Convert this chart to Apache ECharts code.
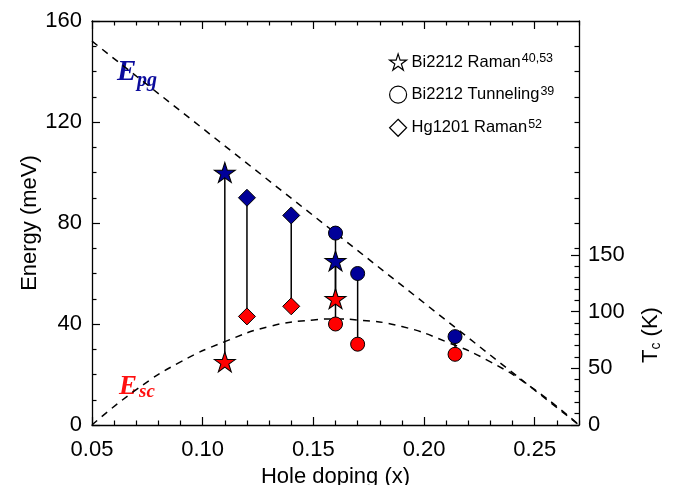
<!DOCTYPE html>
<html>
<head>
<meta charset="utf-8">
<script src="https://cdn.jsdelivr.net/npm/echarts@6/dist/echarts.min.js"></script>
<style>
html,body{margin:0;padding:0;background:#fff;}
#chart{width:677px;height:485px;}
</style>
</head>
<body>
<div id="chart"></div>
<script>
// Bi2212 Raman (stars)
const biRamanX = [0.11, 0.16];
const biRamanPg = [100, 65];
const biRamanSc = [25, 50];
// Bi2212 Tunneling (circles)
const tunnelX = [0.16, 0.17, 0.214];
const tunnelPg = [76, 60, 35];
const tunnelSc = [40, 32, 28];
// Hg1201 Raman (diamonds)
const hgX = [0.12, 0.14];
const hgPg = [90, 83];
const hgSc = [43, 47];

// dashed guide lines
const epgX = [0.05, 0.27];
const epgY = [152, 0];
const escX = [0.05, 0.07, 0.09, 0.11, 0.13, 0.15, 0.16, 0.17, 0.19, 0.21, 0.23, 0.25, 0.27];
const escY = [0, 14, 25, 33, 39, 41.6, 42, 41.6, 39, 33, 25, 14, 0];

const seriesNames = ['Bi2212 Raman', 'Bi2212 Tunneling', 'Hg1201 Raman'];
const seriesRefs = ['40,53', '39', '52'];

// tick labels
const xMajor = [0.05, 0.10, 0.15, 0.20, 0.25];
const xMinor = [0.06, 0.07, 0.08, 0.09, 0.11, 0.12, 0.13, 0.14, 0.16, 0.17, 0.18, 0.19, 0.21, 0.22, 0.23, 0.24, 0.26, 0.27];
const rightMirror = [70, 80, 90, 100, 110, 120, 130, 140, 150];
const tcMajor = [0, 50, 100, 150];
const tcMinor = [10, 20, 30, 40, 60, 70, 80, 90, 110, 120, 130, 140];

const BLUE = '#000099';
const RED = '#ff0000';
const STAR = 'path://M50 0 L61.23 34.55 L97.55 34.55 L68.16 55.9 L79.39 90.45 L50 69.1 L20.61 90.45 L31.84 55.9 L2.45 34.55 L38.77 34.55 Z';
const FONT = '"Liberation Sans", Arial, sans-serif';
const SERIF = '"Liberation Serif", "Times New Roman", serif';
const FS = 22;

function pts(xs, pg, sc) {
    let out = [];
    xs.forEach((x, i) => {
        out.push({value: [x, pg[i]], itemStyle: {color: BLUE}});
        out.push({value: [x, sc[i]], itemStyle: {color: RED}});
    });
    return out;
}
function segs(xs, pg, sc) {
    return xs.map((x, i) => [x, pg[i], sc[i]]);
}
function pairs(xs, ys) {
    return xs.map((x, i) => [x, ys[i]]);
}

let chart = echarts.init(document.getElementById('chart'));
const axisLineStyle = {color: '#000', width: 1.3};
const tickStyle = {color: '#000', width: 1.2};
const markerStyle = {borderColor: '#000', borderWidth: 1, opacity: 1};

let option = {
    backgroundColor: '#fff',
    animation: false,
    grid: {left: 92, right: 98, top: 21, bottom: 60, containLabel: false, outerBoundsMode: 'none'},
    legend: {
        orient: 'vertical',
        left: 384,
        top: 47,
        itemWidth: 17,
        itemHeight: 17,
        itemGap: 14,
        data: seriesNames,
        itemStyle: {color: '#fff', borderColor: '#000', borderWidth: 1.2, opacity: 1},
        formatter: name => '{t|' + name + '}{s|' + seriesRefs[seriesNames.indexOf(name)] + '}',
        textStyle: {
            rich: {
                t: {fontSize: 16.5, fontFamily: FONT, color: '#000', lineHeight: 20},
                s: {fontSize: 12.5, fontFamily: FONT, color: '#000', verticalAlign: 'top', lineHeight: 12, padding: [0, 0, 0, 1]}
            }
        }
    },
    xAxis: [{
        type: 'value', position: 'bottom', min: 0.05, max: 0.27,
        axisLine: {show: true, onZero: false, lineStyle: axisLineStyle},
        axisTick: {show: true, inside: true, length: 8, customValues: xMajor, lineStyle: tickStyle},
        axisLabel: {customValues: xMajor, formatter: v => v.toFixed(2), fontSize: FS, fontFamily: FONT, color: '#000', margin: 14},
        splitLine: {show: false},
        name: 'Hole doping (x)', nameLocation: 'middle', nameGap: 40,
        nameTextStyle: {fontSize: FS, fontFamily: FONT, color: '#000'}
    }, {
        type: 'value', position: 'bottom', min: 0.05, max: 0.27,
        axisLine: {show: false, onZero: false},
        axisTick: {show: true, inside: true, length: 4.5, customValues: xMinor, lineStyle: tickStyle},
        axisLabel: {show: false},
        splitLine: {show: false}
    }, {
        type: 'value', position: 'top', min: 0.05, max: 0.27,
        axisLine: {show: true, onZero: false, lineStyle: axisLineStyle},
        axisTick: {show: true, inside: true, length: 8, customValues: xMajor, lineStyle: tickStyle},
        axisLabel: {show: false},
        splitLine: {show: false}
    }, {
        type: 'value', position: 'top', min: 0.05, max: 0.27,
        axisLine: {show: false, onZero: false},
        axisTick: {show: true, inside: true, length: 4.5, customValues: xMinor, lineStyle: tickStyle},
        axisLabel: {show: false},
        splitLine: {show: false}
    }],
    yAxis: [{
        type: 'value', position: 'left', min: 0, max: 160, interval: 40,
        axisLine: {show: true, onZero: false, lineStyle: axisLineStyle},
        axisTick: {show: true, inside: true, length: 8, lineStyle: tickStyle},
        minorTick: {show: true, splitNumber: 4, length: 4.5, lineStyle: tickStyle},
        axisLabel: {fontSize: FS, fontFamily: FONT, color: '#000', margin: 10},
        splitLine: {show: false},
        name: 'Energy (meV)', nameLocation: 'middle', nameGap: 51, nameRotate: 90, nameMoveOverlap: false,
        nameTextStyle: {fontSize: FS, fontFamily: FONT, color: '#000'}
    }, {
        type: 'value', position: 'right', min: 0, max: 160,
        axisLine: {show: true, onZero: false, lineStyle: axisLineStyle},
        axisTick: {show: true, inside: true, length: 4.5, customValues: rightMirror, lineStyle: tickStyle},
        axisLabel: {show: false},
        splitLine: {show: false}
    }, {
        type: 'value', position: 'right', min: 0, max: 356.5,
        axisLine: {show: false, onZero: false},
        axisTick: {show: true, inside: true, length: 8, customValues: tcMajor, lineStyle: tickStyle},
        axisLabel: {customValues: tcMajor, fontSize: FS, fontFamily: FONT, color: '#000', margin: 9},
        splitLine: {show: false}
    }, {
        type: 'value', position: 'right', min: 0, max: 356.5,
        axisLine: {show: false, onZero: false},
        axisTick: {show: true, inside: true, length: 4.5, customValues: tcMinor, lineStyle: tickStyle},
        axisLabel: {show: false},
        splitLine: {show: false}
    }],
    graphic: [
        {type: 'text', x: 651, y: 335, rotation: Math.PI / 2, style: {
            text: '{a|T}{b|c}{a| (K)}', align: 'center', verticalAlign: 'middle',
            rich: {
                a: {fontSize: FS, fontFamily: FONT, fill: '#000', lineHeight: 24},
                b: {fontSize: 14, fontFamily: FONT, fill: '#000', verticalAlign: 'bottom', lineHeight: 14}
            }
        }},
        {type: 'text', x: 117, y: 73, style: {text: 'E', font: 'italic bold 29px ' + SERIF, fill: '#0b0b9c', verticalAlign: 'middle'}},
        {type: 'text', x: 137, y: 81, style: {text: 'pg', font: 'italic bold 20px ' + SERIF, fill: '#0b0b9c', verticalAlign: 'middle'}},
        {type: 'text', x: 119, y: 387, style: {text: 'E', font: 'italic bold 27px ' + SERIF, fill: '#ff1010', verticalAlign: 'middle'}},
        {type: 'text', x: 139, y: 392, style: {text: 'sc', font: 'italic bold 19px ' + SERIF, fill: '#ff1010', verticalAlign: 'middle'}}
    ],
    series: [{
        type: 'line', data: pairs(epgX, epgY), symbol: 'none', silent: true, z: 1,
        lineStyle: {color: '#000', width: 1.5, type: [7, 6]}
    }, {
        type: 'line', data: pairs(escX, escY), symbol: 'none', smooth: true, silent: true, z: 1,
        lineStyle: {color: '#000', width: 1.5, type: [7, 6]}
    }, {
        type: 'custom', z: 2,
        data: segs(biRamanX, biRamanPg, biRamanSc).concat(segs(tunnelX, tunnelPg, tunnelSc), segs(hgX, hgPg, hgSc)),
        encode: {x: 0, y: [1, 2]},
        renderItem: (params, api) => {
            let a = api.coord([api.value(0), api.value(1)]);
            let b = api.coord([api.value(0), api.value(2)]);
            return {type: 'line', shape: {x1: a[0], y1: a[1], x2: b[0], y2: b[1]}, style: {stroke: '#000', lineWidth: 1.5}};
        }
    }, {
        name: seriesNames[0], type: 'scatter', symbol: STAR, symbolSize: [21, 20], z: 4,
        itemStyle: markerStyle, data: pts(biRamanX, biRamanPg, biRamanSc)
    }, {
        name: seriesNames[1], type: 'scatter', symbol: 'circle', symbolSize: 14, z: 3,
        itemStyle: markerStyle, data: pts(tunnelX, tunnelPg, tunnelSc)
    }, {
        name: seriesNames[2], type: 'scatter', symbol: 'diamond', symbolSize: 17, z: 3,
        itemStyle: markerStyle, data: pts(hgX, hgPg, hgSc)
    }]
};
chart.setOption(option);
window.addEventListener('resize', () => { chart.resize(); });
</script>
</body>
</html>
